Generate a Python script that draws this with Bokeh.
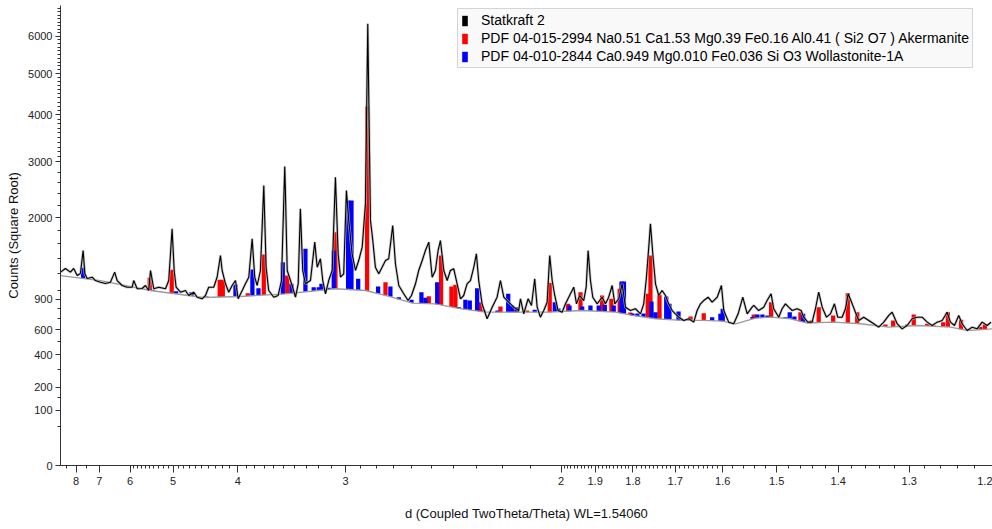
import numpy as np
from bokeh.plotting import figure
from bokeh.models import (Range1d, FixedTicker, CustomJSTickFormatter, Legend,
                          LegendItem, ColumnDataSource)
from bokeh.embed import file_html
from bokeh.resources import INLINE

# ---- measured pattern (x = 1/d in 1/Angstrom, y = counts) ----
inv_d = [0.1129,0.1167,0.1206,0.1231,0.1258,0.1283,0.1304,0.1317,0.1335,0.1374,
0.1399,0.1438,0.1477,0.1515,0.1548,0.1567,0.1606,0.1644,0.1683,0.1695,
0.1722,0.1760,0.1786,0.1811,0.1825,0.1850,0.1889,0.1941,0.1966,0.1992,
0.2008,0.2023,0.2057,0.2095,0.2121,0.2159,0.2186,0.2224,0.2250,0.2275,
0.2314,0.2340,0.2366,0.2379,0.2405,0.2430,0.2456,0.2482,0.2503,0.2534,
0.2559,0.2585,0.2611,0.2631,0.2650,0.2675,0.2701,0.2719,0.2739,0.2778,
0.2812,0.2838,0.2863,0.2868,0.2882,0.2920,0.2946,0.2967,0.2984,0.3002,
0.3023,0.3062,0.3095,0.3114,0.3139,0.3157,0.3178,0.3203,0.3230,0.3255,
0.3276,0.3294,0.3319,0.3340,0.3358,0.3384,0.3410,0.3435,0.3462,0.3487,
0.3505,0.3526,0.3544,0.3564,0.3590,0.3616,0.3642,0.3667,0.3698,0.3719,
0.3745,0.3783,0.3817,0.3843,0.3874,0.3899,0.3926,0.3951,0.3977,0.4003,
0.4028,0.4049,0.4067,0.4093,0.4119,0.4144,0.4170,0.4196,0.4222,0.4247,
0.4273,0.4299,0.4325,0.4345,0.4363,0.4389,0.4428,0.4467,0.4505,0.4531,
0.4557,0.4595,0.4634,0.4672,0.4686,0.4711,0.4745,0.4771,0.4796,0.4815,
0.4840,0.4866,0.4892,0.4912,0.4931,0.4951,0.4977,0.5008,0.5034,0.5059,
0.5098,0.5119,0.5144,0.5175,0.5194,0.5209,0.5227,0.5245,0.5279,0.5317,
0.5343,0.5368,0.5395,0.5415,0.5446,0.5472,0.5498,0.5536,0.5575,0.5614,
0.5639,0.5660,0.5678,0.5691,0.5709,0.5730,0.5755,0.5781,0.5807,0.5832,
0.5859,0.5884,0.5910,0.5948,0.5987,0.6026,0.6052,0.6078,0.6103,0.6137,
0.6168,0.6207,0.6240,0.6258,0.6296,0.6335,0.6369,0.6405,0.6439,0.6477,
0.6490,0.6528,0.6567,0.6593,0.6624,0.6644,0.6683,0.6709,0.6735,0.6760,
0.6787,0.6825,0.6856,0.6876,0.6907,0.6941,0.6967,0.6992,0.7019,0.7052,
0.7083,0.7114,0.7139,0.7173,0.7199,0.7220,0.7251,0.7276,0.7302,0.7340,
0.7379,0.7418,0.7456,0.7495,0.7534,0.7560,0.7599,0.7637,0.7676,0.7715,
0.7753,0.7792,0.7831,0.7869,0.7908,0.7947,0.7985,0.8011,0.8042,0.8075,
0.8101,0.8140,0.8179,0.8217,0.8256,0.8295,0.8325]
counts = [1217,1264,1217,1264,1175,1200,1505,1200,1139,1154,
1114,1094,1079,1094,1217,1114,1055,1035,1035,1114,
1017,1020,1055,997,1238,1017,1035,1017,1114,1824,
1238,1035,978,997,941,978,922,905,941,1035,
1035,1154,1436,1238,1075,978,1055,1114,905,997,
1075,1154,1673,1154,1055,1238,2553,1280,997,922,
941,1114,2911,2462,1238,1055,922,1075,2145,1238,
1075,1114,1624,1280,1391,1114,960,1114,1238,2706,
1459,1154,1197,2462,1954,1459,1238,1368,1552,2235,
6352,1954,1648,1280,1196,1280,1368,1391,1875,1325,
1055,960,886,941,1075,1238,1368,1505,1624,1154,
1238,1505,1648,1238,1114,1238,1260,1075,905,941,
1075,1114,1280,1459,1114,851,701,816,922,1114,
922,868,816,782,905,749,905,834,1135,816,
716,782,868,1436,1114,941,782,765,851,922,
1035,851,941,886,1035,1505,1114,922,851,922,
851,922,1055,851,905,1075,816,782,800,749,
851,1154,1552,1902,1459,1075,941,997,941,851,
782,749,716,685,701,669,782,851,886,922,
868,922,1055,782,669,654,749,922,749,816,
834,782,816,886,960,800,716,800,851,816,
782,800,782,716,669,669,800,978,816,716,
749,851,716,716,800,960,851,765,685,716,
685,654,623,669,733,765,654,608,638,701,
716,716,669,638,669,685,765,669,638,733,
654,593,623,608,669,638,669]

# ---- background curve ----
bg_inv_d = [0.1129,0.1438,0.1825,0.2234,0.2520,0.2869,0.3255,0.3487,0.3642,0.3851,
0.4028,0.4206,0.4415,0.4670,0.4902,0.5165,0.5420,0.5552,0.5730,0.5939,
0.6094,0.6248,0.6349,0.6503,0.6619,0.6774,0.6905,0.7106,0.7315,0.7533,
0.7757,0.8013,0.8144,0.8337]
bg_counts = [1175,1114,997,919,930,960,1017,997,941,858,
851,803,765,765,765,782,765,733,701,685,
685,678,654,708,716,701,661,669,654,623,
638,623,593,608]

# ---- PDF 04-015-2994 Akermanite sticks (top in counts) ----
ake_inv_d = [0.1819,0.1989,0.2360,0.2384,0.2577,0.2701,0.2882,0.3255,0.3500,0.3642,
0.3977,0.4072,0.4152,0.4183,0.4376,0.4531,0.4647,0.4737,0.4912,0.5054,
0.5150,0.5317,0.5389,0.5453,0.5536,0.5670,0.5691,0.5761,0.6001,0.6103,
0.6490,0.6624,0.6851,0.6936,0.6992,0.7104,0.7217,0.7290,0.7508,0.7568,
0.7676,0.7727,0.7831,0.7882,0.7955,0.7991,0.8093,0.8152,0.8242,0.8277]
ake_top = [1147,1247,1123,1123,967,1450,1175,1772,4196,1094,
933,1436,1043,1063,868,823,792,782,1087,851,
978,941,905,1017,762,960,1436,949,723,755,
742,868,765,685,816,733,967,765,647,685,
647,742,654,638,669,765,691,605,625,647]

# ---- PDF 04-010-2844 Wollastonite-1A sticks ----
wol_inv_d = [0.1304,0.1422,0.1683,0.1842,0.1979,0.2023,0.2142,0.2258,0.2482,0.2613,
0.2660,0.2812,0.2848,0.2915,0.3023,0.3087,0.3126,0.3147,0.3203,0.3242,
0.3353,0.3379,0.3431,0.3585,0.3680,0.3745,0.3843,0.3920,0.3951,0.4042,
0.4209,0.4260,0.4294,0.4351,0.4402,0.4508,0.4591,0.4621,0.4660,0.4796,
0.4951,0.4979,0.5065,0.5163,0.5227,0.5291,0.5338,0.5407,0.5467,0.5486,
0.5552,0.5590,0.5637,0.5699,0.5730,0.5813,0.5838,0.5908,0.6168,0.6232,
0.6250,0.6480,0.6518,0.6557,0.6596,0.6735,0.6768,0.6804,0.6872]
wol_top = [1273,1102,1017,1005,967,989,978,930,1067,1251,
1024,941,1346,1075,1529,1035,1035,1075,1028,1505,
2286,2286,1135,1043,1043,922,894,978,916,1094,
816,894,886,1024,782,782,960,834,816,789,
868,802,834,823,834,834,841,834,1102,1102,
752,752,752,876,765,930,851,772,716,749,
800,718,742,742,733,716,765,723,749]

# ---- axis ticks ----
d_major = [8, 7, 6, 5, 4, 3, 2, 1.9, 1.8, 1.7, 1.6, 1.5, 1.4, 1.3, 1.2]
d_minor = ([8.5, 7.5]
           + [round(5 + 0.1 * i, 2) for i in range(1, 10)]
           + [round(4 + 0.1 * i, 2) for i in range(1, 10)]
           + [round(3 + 0.1 * i, 2) for i in range(1, 10)]
           + [round(2 + 0.1 * i, 2) for i in range(1, 10)]
           + [round(1.6 + 0.01 * i, 2) for i in range(1, 40) if i % 10]
           + [round(1.2 + 0.02 * i, 2) for i in range(1, 20) if i % 5])
count_major = [0, 100, 200, 400, 600, 900, 2000, 3000, 4000, 5000, 6000]
count_minor = ([50, 150, 300, 500, 700, 800]
               + list(range(1000, 2000, 200)) + list(range(2200, 3000, 200))
               + list(range(3100, 7000, 100)))
count_minor = [c for c in count_minor if c not in count_major]

FONT = "Liberation Sans"

p = figure(width=992, height=529, output_backend="svg", toolbar_location=None,
           x_range=Range1d(0.1129, 0.8336), y_range=Range1d(0, 83.0),
           min_border_left=60, min_border_right=0, min_border_top=5,
           min_border_bottom=64)
p.outline_line_color = None
p.grid.visible = False

# sticks drawn from the background up to the stick top (sqrt space)
def sticks(xs, tops):
    xs = np.array(xs, dtype=float)
    base = np.interp(xs, bg_inv_d, bg_counts)
    top = np.maximum(np.array(tops, dtype=float), base)
    return ColumnDataSource(dict(x=xs, b=np.sqrt(base), t=np.sqrt(top)))

r_ake = p.vbar(x="x", bottom="b", top="t", width=0.0033, source=sticks(ake_inv_d, ake_top),
               fill_color="#ff0000", line_color=None)
r_wol = p.vbar(x="x", bottom="b", top="t", width=0.0033, source=sticks(wol_inv_d, wol_top),
               fill_color="#0000ff", line_color=None)

p.line(np.array(bg_inv_d), np.sqrt(np.array(bg_counts, dtype=float)),
       line_color="#9a9a9a", line_width=1.3)
sx = np.array(inv_d)
sy = np.sqrt(np.array(counts, dtype=float))
p.line(sx, sy, line_color="#b4b4b4", line_width=2.6, line_alpha=0.8)
p.line(sx, sy, line_color="black", line_width=1.1)

# legend proxy for the scan (placed outside the visible x range)
r_scan = p.vbar(x=[0.0], bottom=[0.0], top=[1.0], width=0.001,
                fill_color="black", line_color=None)

legend = Legend(items=[
    LegendItem(label="Statkraft 2", renderers=[r_scan]),
    LegendItem(label="PDF 04-015-2994 Na0.51 Ca1.53 Mg0.39 Fe0.16 Al0.41 ( Si2 O7 ) Akermanite",
               renderers=[r_ake]),
    LegendItem(label="PDF 04-010-2844 Ca0.949 Mg0.010 Fe0.036 Si O3 Wollastonite-1A",
               renderers=[r_wol]),
], location=(397, 397))
legend.label_text_font = FONT
legend.label_text_font_size = "14px"
legend.label_text_color = "#000000"
legend.glyph_width = 7
legend.glyph_height = 13
legend.label_height = 13
legend.label_standoff = 13
legend.spacing = 2
legend.padding = 3
legend.margin = 0
legend.border_line_color = "#aab2c0"
legend.border_line_width = 1
legend.background_fill_color = "#f9f9f9"
legend.background_fill_alpha = 1.0
p.add_layout(legend)

# axes
xa = p.xaxis[0]
xa.ticker = FixedTicker(ticks=[1.0 / d for d in d_major], minor_ticks=[1.0 / d for d in d_minor])
xa.formatter = CustomJSTickFormatter(code="return Number((1/tick).toFixed(2)).toString();")
xa.axis_label = "d (Coupled TwoTheta/Theta) WL=1.54060"
ya = p.yaxis[0]
ya.ticker = FixedTicker(ticks=[float(np.sqrt(v)) for v in count_major],
                        minor_ticks=[float(np.sqrt(v)) for v in count_minor])
ya.formatter = CustomJSTickFormatter(code="return Math.round(tick*tick).toString();")
ya.axis_label = "Counts (Square Root)"

for ax in (xa, ya):
    ax.axis_line_color = "#333333"
    ax.major_tick_line_color = "#333333"
    ax.minor_tick_line_color = "#333333"
    ax.major_tick_in = 0
    ax.minor_tick_in = 0
    ax.major_label_text_font = FONT
    ax.major_label_text_font_size = "11px"
    ax.major_label_text_color = "#222222"
    ax.axis_label_text_font = FONT
    ax.axis_label_text_font_size = "13px"
    ax.axis_label_text_font_style = "normal"
    ax.axis_label_text_color = "#111111"

xa.major_tick_out = 7
xa.minor_tick_out = 3
xa.major_label_standoff = 4
xa.axis_label_standoff = 18
ya.major_tick_out = 5
ya.minor_tick_out = 3
ya.major_label_standoff = 3
ya.axis_label_standoff = 4

open("out.html", "w").write(file_html(p, INLINE))
